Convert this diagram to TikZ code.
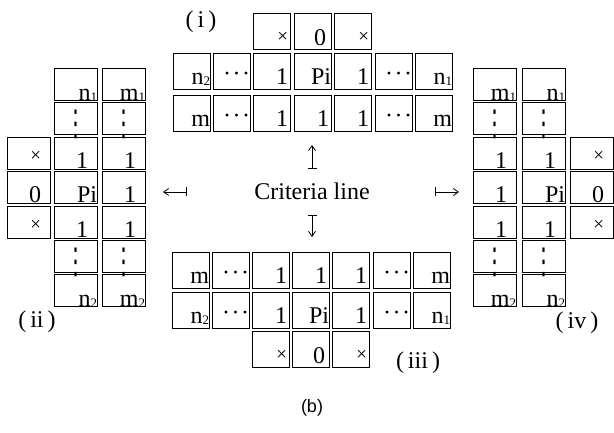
\documentclass[tikz,border=0pt]{standalone}
\usepackage{fontspec}
\usepackage{graphicx}
\setmainfont{Liberation Serif}
\setsansfont{Liberation Sans}
\newfontfamily\symfont{DejaVu Sans}
\usetikzlibrary{arrows.meta}

% small index set after n or m
\newcommand\sub[1]{\raisebox{-1.5pt}{\fontsize{13}{13}\selectfont #1}}
% small cross mark
\newcommand\xx{{\fontsize{19}{19}\selectfont\raisebox{2pt}{×}}}
% horizontal and vertical runs of dots
\newcommand\hdts{\raisebox{3pt}{·\kern1.5pt·\kern1.5pt·}}
\newcommand\vdts{\scalebox{1}[1.7]{\symfont\fontsize{21}{21}\selectfont ⋮}}

\tikzset{
  frame/.style={draw, line width=1.3pt, anchor=north west, inner sep=0pt},
  hcell/.style={frame, minimum width=37pt, minimum height=36pt},
  vcell/.style={frame, minimum width=43pt, minimum height=32pt},
  entry/.style={anchor=base east, inner sep=0pt, font=\fontsize{24}{24}\selectfont},
  tag/.style={inner sep=0pt, font=\fontsize{24}{24}\selectfont},
  dirarrow/.style={line width=0.8pt,
    {Bar[width=9pt,line width=0.8pt]}-{Straight Barb[length=5pt,width=7pt,line width=0.8pt]}}
}

% style, name, x, y, right inset, bottom inset, entry
\newcommand\cellbox[7]{%
  \node[#1] (#2) at (#3,#4) {};
  \node[entry] (#2t) at ([shift={(-#5pt,#6pt)}]#2.south east) {#7};}

\begin{document}
\begin{tikzpicture}[x=1pt,y=-1pt]
\useasboundingbox (0,0) rectangle (614,433);

% ---------- block (i), above ----------
\cellbox{hcell}{a13}{253}{13}{3}{6}{\xx}
\cellbox{hcell}{a14}{294}{13}{6}{5}{0}
\cellbox{hcell}{a15}{334}{13}{3}{6}{\xx}
\cellbox{hcell}{a21}{173}{53}{1}{6}{n\sub2}
\cellbox{hcell}{a22}{213}{53}{1}{6}{\hdts}
\cellbox{hcell}{a23}{253}{53}{3}{6}{1}
\cellbox{hcell}{a24}{294}{53}{1}{6}{Pi}
\cellbox{hcell}{a25}{334}{53}{3}{6}{1}
\cellbox{hcell}{a26}{375}{53}{1}{6}{\hdts}
\cellbox{hcell}{a27}{415}{53}{1}{6}{n\sub1}
\cellbox{hcell}{a31}{173}{95}{1}{6}{m}
\cellbox{hcell}{a32}{213}{95}{1}{6}{\hdts}
\cellbox{hcell}{a33}{253}{95}{3}{6}{1}
\cellbox{hcell}{a34}{294}{95}{3}{6}{1}
\cellbox{hcell}{a35}{334}{95}{3}{6}{1}
\cellbox{hcell}{a36}{375}{95}{1}{6}{\hdts}
\cellbox{hcell}{a37}{415}{95}{1}{6}{m}
\node[tag] (labi) at (201,22) {(\,i\,)};

% ---------- block (iii), below ----------
\cellbox{hcell}{c11}{172}{252}{1}{6}{m}
\cellbox{hcell}{c12}{212}{252}{1}{6}{\hdts}
\cellbox{hcell}{c13}{252}{252}{3}{6}{1}
\cellbox{hcell}{c14}{292}{252}{3}{6}{1}
\cellbox{hcell}{c15}{332}{252}{3}{6}{1}
\cellbox{hcell}{c16}{373}{252}{1}{6}{\hdts}
\cellbox{hcell}{c17}{413}{252}{1}{6}{m}
\cellbox{hcell}{c21}{172}{292}{1}{6}{n\sub2}
\cellbox{hcell}{c22}{212}{292}{1}{6}{\hdts}
\cellbox{hcell}{c23}{252}{292}{3}{6}{1}
\cellbox{hcell}{c24}{292}{292}{1}{6}{Pi}
\cellbox{hcell}{c25}{332}{292}{3}{6}{1}
\cellbox{hcell}{c26}{373}{292}{1}{6}{\hdts}
\cellbox{hcell}{c27}{413}{292}{1}{6}{n\sub1}
\cellbox{hcell}{c33}{252}{331}{3}{6}{\xx}
\cellbox{hcell}{c34}{292}{331}{5}{5}{0}
\cellbox{hcell}{c35}{332}{331}{3}{6}{\xx}
\node[tag] (labiii) at (418,363) {(\,iii\,)};

% ---------- block (ii), left ----------
\cellbox{vcell}{b12}{54}{68}{1}{1}{n\sub1}
\cellbox{vcell}{b13}{102}{68}{1}{1}{m\sub1}
\cellbox{vcell}{b22}{54}{102}{12}{0}{\vdts}
\cellbox{vcell}{b23}{102}{102}{12}{0}{\vdts}
\cellbox{vcell}{b31}{7}{137}{10}{7}{\xx}
\cellbox{vcell}{b32}{54}{137}{10}{2}{1}
\cellbox{vcell}{b33}{102}{137}{10}{2}{1}
\cellbox{vcell}{b41}{7}{171}{10}{2}{0}
\cellbox{vcell}{b42}{54}{171}{1}{2}{Pi}
\cellbox{vcell}{b43}{102}{171}{10}{2}{1}
\cellbox{vcell}{b51}{7}{206}{10}{7}{\xx}
\cellbox{vcell}{b52}{54}{206}{10}{2}{1}
\cellbox{vcell}{b53}{102}{206}{10}{2}{1}
\cellbox{vcell}{b62}{54}{240}{12}{0}{\vdts}
\cellbox{vcell}{b63}{102}{240}{12}{0}{\vdts}
\cellbox{vcell}{b72}{54}{274}{1}{1}{n\sub2}
\cellbox{vcell}{b73}{102}{274}{1}{1}{m\sub2}
\node[tag] (labii) at (37,322) {(\,ii\,)};

% ---------- block (iv), right ----------
\cellbox{vcell}{d11}{473}{68}{1}{1}{m\sub1}
\cellbox{vcell}{d12}{522}{68}{1}{1}{n\sub1}
\cellbox{vcell}{d21}{473}{102}{12}{0}{\vdts}
\cellbox{vcell}{d22}{522}{102}{12}{0}{\vdts}
\cellbox{vcell}{d31}{473}{137}{10}{2}{1}
\cellbox{vcell}{d32}{522}{137}{10}{2}{1}
\cellbox{vcell}{d33}{570}{137}{10}{7}{\xx}
\cellbox{vcell}{d41}{473}{171}{10}{2}{1}
\cellbox{vcell}{d42}{522}{171}{1}{2}{Pi}
\cellbox{vcell}{d43}{570}{171}{10}{2}{0}
\cellbox{vcell}{d51}{473}{206}{10}{2}{1}
\cellbox{vcell}{d52}{522}{206}{10}{2}{1}
\cellbox{vcell}{d53}{570}{206}{10}{7}{\xx}
\cellbox{vcell}{d61}{473}{240}{12}{0}{\vdts}
\cellbox{vcell}{d62}{522}{240}{12}{0}{\vdts}
\cellbox{vcell}{d71}{473}{274}{1}{1}{m\sub2}
\cellbox{vcell}{d72}{522}{274}{1}{1}{n\sub2}
\node[tag] (labiv) at (577,323) {(\,iv\,)};

% ---------- criteria line and the four directions ----------
\node[tag, anchor=base] (crit) at (312,200) {Criteria line};
\coordinate (upfoot) at (312,169);
\coordinate (uphead) at (312,145);
\coordinate (dnfoot) at (312,215);
\coordinate (dnhead) at (312,237);
\coordinate (lffoot) at (187,192);
\coordinate (lfhead) at (163,192);
\coordinate (rtfoot) at (435,192);
\coordinate (rthead) at (459,192);
\draw[dirarrow] (upfoot) -- (uphead);
\draw[dirarrow] (dnfoot) -- (dnhead);
\draw[dirarrow] (lffoot) -- (lfhead);
\draw[dirarrow] (rtfoot) -- (rthead);

\node[inner sep=0pt, font=\sffamily\fontsize{18}{18}\selectfont] (cap) at (312,408) {(b)};
\end{tikzpicture}
\end{document}
